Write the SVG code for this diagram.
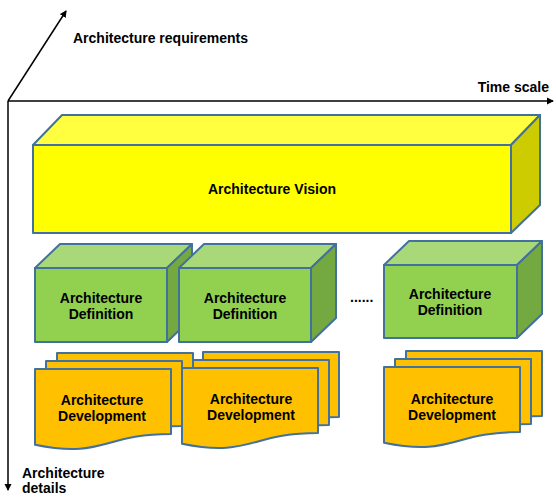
<svg xmlns="http://www.w3.org/2000/svg" xmlns:xlink="http://www.w3.org/1999/xlink" width="556" height="498" viewBox="0 0 556 498">
  <style>
    text { font-family: "Liberation Sans", Arial, sans-serif; font-weight: bold; font-size: 14px; fill: #000; }
    .c { text-anchor: middle; }
    .edge { stroke: #41719C; stroke-width: 2; stroke-linejoin: round; }
    .yfront { fill: #FFFF00; }
    .ytop { fill: #FFFF40; }
    .yside { fill: #CCCC00; }
    .gfront { fill: #92D050; }
    .gtop { fill: #A9D879; }
    .gside { fill: #74A840; }
    .doc { fill: #FFC000; stroke: #41719C; stroke-width: 2; stroke-linejoin: round; }
    .axis { stroke: #000; stroke-width: 1.5; fill: none; }
  </style>
  <defs>
    <marker id="arrow" markerWidth="8" markerHeight="8" refX="6" refY="4" orient="auto" markerUnits="userSpaceOnUse">
      <path d="M0,0.5 L7,4 L0,7.5 Z" fill="#000"/>
    </marker>
    <!-- single page of a document stack -->
    <path id="doc" d="M0,0 H136 V65 C68,65 68,89.7 0,75.7 Z"/>
  </defs>

  <!-- axes -->
  <g id="connectors">
    <line class="axis" x1="8" y1="101" x2="8" y2="490" marker-end="url(#arrow)"/>
    <line class="axis" x1="8" y1="101" x2="553" y2="101" marker-end="url(#arrow)"/>
    <line class="axis" x1="8" y1="101" x2="66" y2="11" marker-end="url(#arrow)"/>
  </g>

  <g id="axis-labels">
    <text x="73" y="43">Architecture requirements</text>
    <text x="549" y="92" text-anchor="end">Time scale</text>
    <text x="22" y="478">Architecture</text>
    <text x="22" y="493">details</text>
  </g>

  <!-- vision block -->
  <g id="vision" class="edge">
    <polygon class="ytop" points="33,145 62,115 540,115 511,145"/>
    <polygon class="yside" points="511,145 540,115 540,205 511,233"/>
    <rect class="yfront" x="33" y="145" width="478" height="88"/>
    <text class="c" x="272" y="194" stroke="none">Architecture Vision</text>
  </g>

  <!-- definition blocks -->
  <g id="definition-1" class="edge">
    <polygon class="gtop" points="35,268 60,244 192,244 167,268"/>
    <polygon class="gside" points="167,268 192,244 192,318 167,342"/>
    <rect class="gfront" x="35" y="268" width="132" height="74"/>
    <text class="c" x="101" y="303" stroke="none">Architecture</text>
    <text class="c" x="101" y="319" stroke="none">Definition</text>
  </g>
  <g id="definition-2" class="edge">
    <polygon class="gtop" points="179,268 204,244 336,244 311,268"/>
    <polygon class="gside" points="311,268 336,244 336,318 311,342"/>
    <rect class="gfront" x="179" y="268" width="132" height="74"/>
    <text class="c" x="245" y="303" stroke="none">Architecture</text>
    <text class="c" x="245" y="319" stroke="none">Definition</text>
  </g>
  <g id="ellipsis">
    <text x="350" y="302">......</text>
  </g>
  <g id="definition-n" class="edge">
    <polygon class="gtop" points="384,265 409,241 542,241 517,265"/>
    <polygon class="gside" points="517,265 542,241 542,314 517,338"/>
    <rect class="gfront" x="384" y="265" width="133" height="73"/>
    <text class="c" x="450" y="299" stroke="none">Architecture</text>
    <text class="c" x="450" y="315" stroke="none">Definition</text>
  </g>

  <!-- development document stacks -->
  <g id="development-1">
    <use xlink:href="#doc" class="doc" x="57" y="353"/>
    <use xlink:href="#doc" class="doc" x="46" y="361"/>
    <use xlink:href="#doc" class="doc" x="35" y="369"/>
    <text class="c" x="102" y="405">Architecture</text>
    <text class="c" x="102" y="421">Development</text>
  </g>
  <g id="development-2">
    <use xlink:href="#doc" class="doc" x="203" y="352"/>
    <use xlink:href="#doc" class="doc" x="193" y="360"/>
    <use xlink:href="#doc" class="doc" x="182" y="368"/>
    <text class="c" x="251" y="404">Architecture</text>
    <text class="c" x="251" y="420">Development</text>
  </g>
  <g id="development-n">
    <use xlink:href="#doc" class="doc" x="406" y="351"/>
    <use xlink:href="#doc" class="doc" x="395" y="359"/>
    <use xlink:href="#doc" class="doc" x="384" y="367"/>
    <text class="c" x="452" y="404">Architecture</text>
    <text class="c" x="452" y="420">Development</text>
  </g>
</svg>
